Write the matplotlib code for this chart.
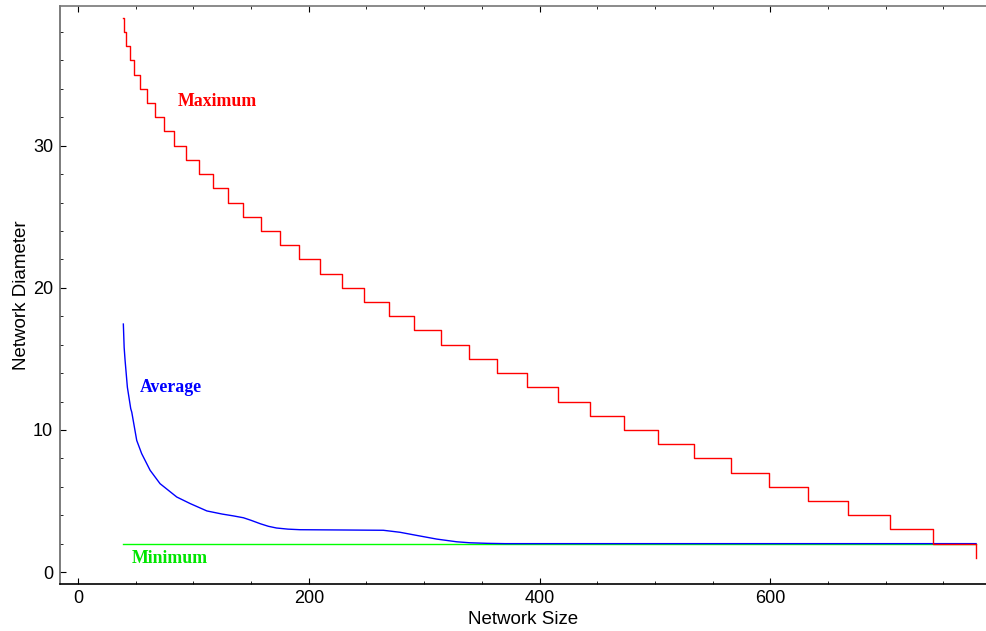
import matplotlib
matplotlib.use("Agg")
import matplotlib.pyplot as plt
from matplotlib.ticker import MultipleLocator

# ---- data ----
max_size = [39.3, 39.9, 41.6, 45.1, 48.8, 53.7, 59.5, 66.7, 74.5, 83.2,
            93.6, 104.9, 116.7, 129.7, 143.0, 158.6, 175.1, 191.5, 209.7, 228.5,
            248.1, 269.5, 291.2, 314.6, 338.6, 363.4, 389.4, 416.3, 444.0, 473.0,
            502.9, 533.9, 565.7, 599.2, 632.7, 667.6, 703.8, 740.8, 778.3]
max_diam = list(range(39, 0, -1))

avg_size = [39.3, 40.0, 40.8, 42.8, 45.7, 46.6, 50.9, 55.2, 62.5, 71.1, 85.6,
            97.2, 111.7, 125.0, 134.8, 143.4, 150.0, 158.0, 165.0, 172.0, 182.0,
            192.4, 230.0, 264.6, 279.0, 293.5, 310.9, 328.2, 339.7, 355.0, 370.0, 778.3]
avg_diam = [17.45, 15.8, 14.9, 13.0, 11.5, 11.25, 9.26, 8.33, 7.16, 6.22, 5.28,
            4.82, 4.30, 4.08, 3.95, 3.82, 3.64, 3.40, 3.22, 3.10, 3.02,
            2.98, 2.96, 2.94, 2.80, 2.58, 2.32, 2.13, 2.06, 2.02, 2.0, 2.0]

min_size = [39.3, 778.3]
min_diam = [2, 2]

x_ticks = [0, 200, 400, 600]
y_ticks = [0, 10, 20, 30]

# ---- figure ----
fig = plt.figure(figsize=(9.87, 6.31), dpi=100)
ax = fig.add_axes([60/987, 1 - 584/631, 1 - 60/987, (584 - 5.7)/631])

ax.plot(min_size, min_diam, color=(0, 1, 0), lw=1.0, zorder=2)
ax.plot(avg_size, avg_diam, color=(0, 0, 1), lw=1.0, zorder=3)
ax.step(max_size, max_diam, where='post', color=(1, 0, 0), lw=1.0, zorder=4)

ax.set_xlim(-15.6, 787.8)
ax.set_ylim(-0.84, 39.85)

lab_font = dict(family='Liberation Serif', fontweight='bold', fontsize=12.8)
ax.text(120.5, 33.1, 'Maximum', color=(1, 0, 0), ha='center', va='center', **lab_font)
ax.text(80.6, 13.0, 'Average', color=(0, 0, 1), ha='center', va='center', **lab_font)
ax.text(79.7, 0.95, 'Minimum', color=(0, 0.9, 0), ha='center', va='center', **lab_font)

ax.set_xticks(x_ticks)
ax.set_yticks(y_ticks)
ax.xaxis.set_minor_locator(MultipleLocator(50))
ax.yaxis.set_minor_locator(MultipleLocator(2))
ax.tick_params(which='both', direction='in', top=True, right=False,
               labelsize=13, colors='black', labelfontfamily='Liberation Sans')
ax.tick_params(which='major', length=4, width=0.8)
ax.tick_params(which='minor', length=2.5, width=0.6)
ax.tick_params(axis='x', pad=4)
ax.tick_params(axis='y', pad=5)

ax.spines['right'].set_visible(False)
ax.spines['left'].set_color('#666666')
ax.spines['top'].set_color('#777777')
ax.spines['bottom'].set_color('black')
for s in ['left', 'top', 'bottom']:
    ax.spines[s].set_linewidth(1.2)

ax.set_xlabel('Network Size', fontsize=13.5, family='Liberation Sans', labelpad=3)
ax.set_ylabel('Network Diameter', fontsize=13.5, family='Liberation Sans', labelpad=2)

fig.savefig('out.png', dpi=100)
